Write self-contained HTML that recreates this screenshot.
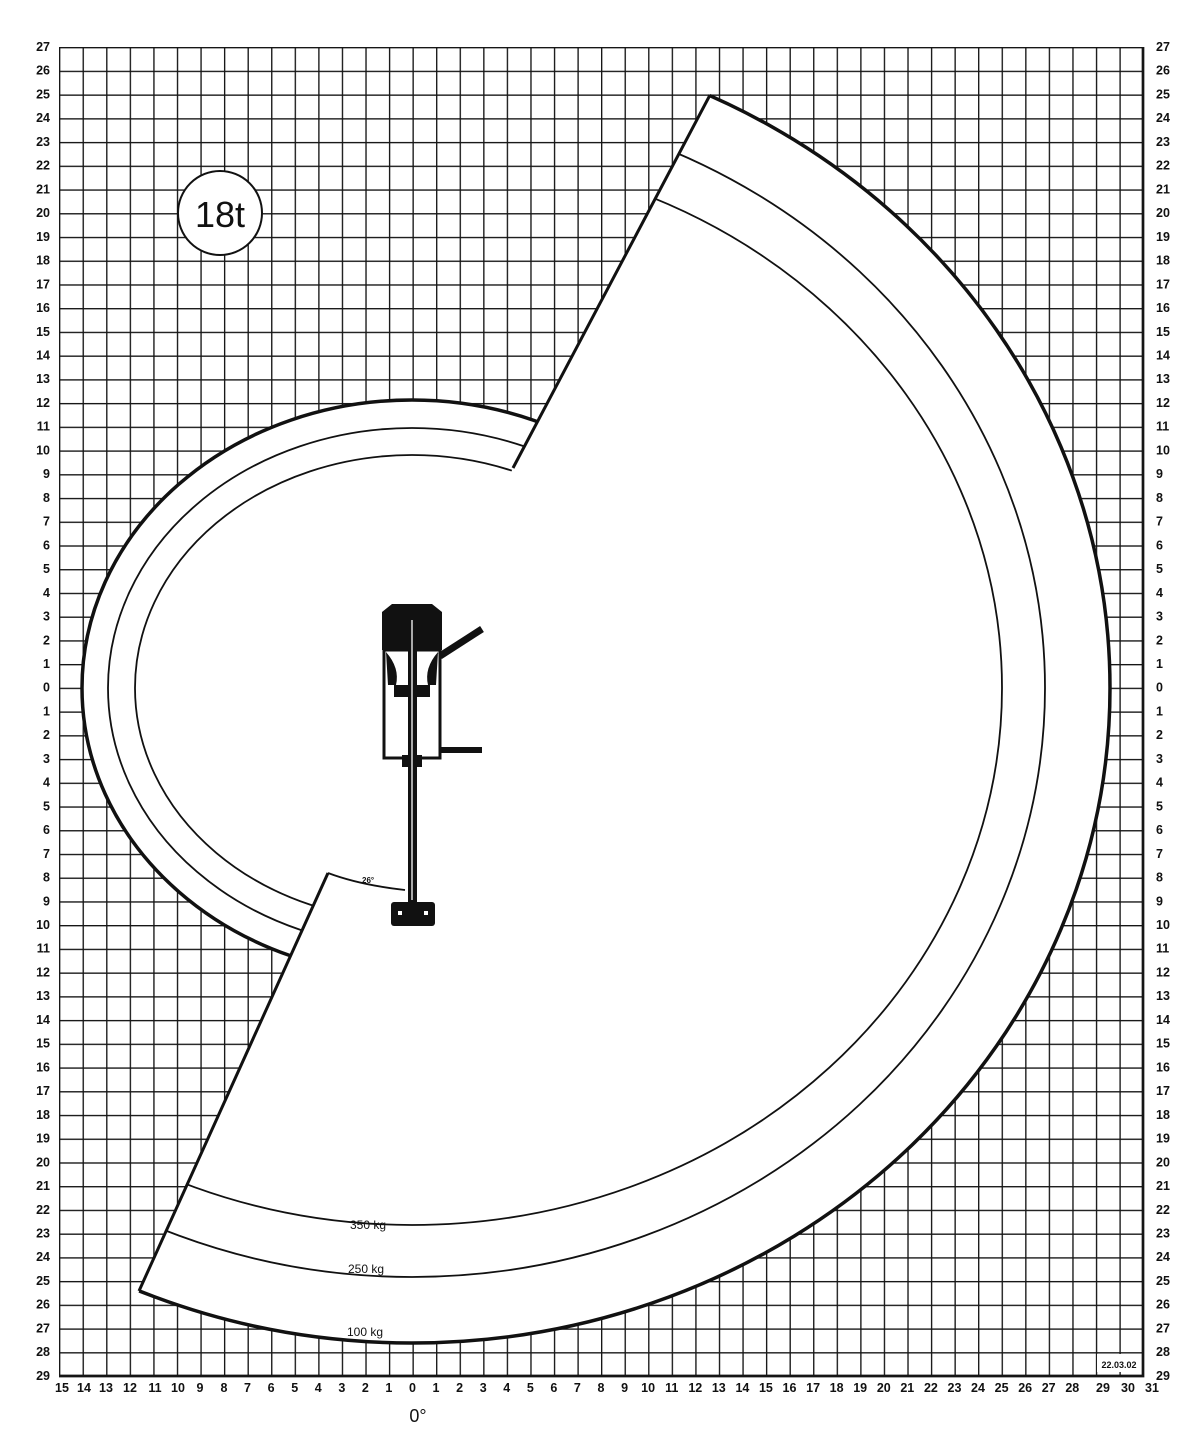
<!DOCTYPE html>
<html><head><meta charset="utf-8"><style>
html,body{margin:0;padding:0;background:#fff}
svg{display:block}
text{font-family:"Liberation Sans",sans-serif;font-weight:bold;fill:#111}
</style></head><body>
<svg width="1200" height="1442" viewBox="0 0 1200 1442" xmlns="http://www.w3.org/2000/svg">
<defs>
<pattern id="g" x="59" y="47" width="23.565" height="23.73" patternUnits="userSpaceOnUse">
<path d="M0 0V23.73M0 0H23.565" stroke="#151515" stroke-width="2.7" fill="none"/>
</pattern>
<clipPath id="cr"><polygon points="760,0 1200,0 1200,1442 71,1442 328,873 513,468"/></clipPath>
<clipPath id="cl"><polygon points="0,0 760,0 513,468 328,873 71,1442 0,1442"/></clipPath>
</defs>
<rect x="59" y="47" width="1084" height="1329" fill="url(#g)"/>
<path d="M1143 47V1376H59" stroke="#151515" stroke-width="2.7" fill="none"/>
<g fill="#fff">
<ellipse cx="412" cy="688" rx="698" ry="655" clip-path="url(#cr)"/>
<ellipse cx="412" cy="688" rx="330" ry="288" clip-path="url(#cl)"/>
<polygon points="505,468 560,468 370,873 320,873"/>
</g>
<g fill="none" stroke="#111">
<g clip-path="url(#cr)">
<ellipse cx="412" cy="688" rx="698" ry="655" stroke-width="3.5"/>
<ellipse cx="412" cy="688" rx="633" ry="589" stroke-width="1.8"/>
<ellipse cx="412" cy="688" rx="590" ry="537" stroke-width="1.8"/>
</g>
<g clip-path="url(#cl)">
<ellipse cx="412" cy="688" rx="330" ry="288" stroke-width="3.5"/>
<ellipse cx="412" cy="688" rx="304" ry="260" stroke-width="1.8"/>
<ellipse cx="412" cy="688" rx="277" ry="233" stroke-width="1.8"/>
</g>
<path d="M710 95L513 468M328 873L139 1291" stroke-width="3"/>
<path d="M328 873Q360 885 405 890" stroke-width="1.8"/>
</g>
<text x="362" y="883" font-size="8">26°</text>
<g fill="#111" stroke="#111">
<path d="M382 612L392 604H432L442 612V650H382Z" stroke="none"/>
<rect x="384" y="650" width="56" height="108" fill="none" stroke-width="3"/>
<path d="M386 652Q400 668 396 685H388ZM438 652Q424 668 428 685H436Z" stroke="none"/>
<rect x="394" y="685" width="36" height="12" stroke="none"/>
<rect x="408" y="615" width="9" height="290" stroke="none"/>
<rect x="402" y="755" width="20" height="12" stroke="none"/>
<path d="M440 656L482 629" stroke-width="7" fill="none"/>
<path d="M440 750H482" stroke-width="6" fill="none"/>
<rect x="391" y="902" width="44" height="24" rx="3" stroke="none"/>
<rect x="398" y="911" width="4" height="4" fill="#fff" stroke="none"/>
<rect x="424" y="911" width="4" height="4" fill="#fff" stroke="none"/>
<path d="M412 620V900" stroke="#ddd" stroke-width="1.5"/>
</g>
<circle cx="220" cy="213" r="42" fill="#fff" stroke="#111" stroke-width="2"/>
<text x="220" y="227" font-size="36" text-anchor="middle" style="font-weight:normal">18t</text>
<g font-size="12">
<text x="350" y="1229" style="font-weight:normal">350 kg</text>
<text x="348" y="1273" style="font-weight:normal">250 kg</text>
<text x="347" y="1336" style="font-weight:normal">100 kg</text>
</g>
<rect x="1097" y="1354" width="44" height="18" fill="#fff"/>
<text x="1119" y="1368" font-size="9" text-anchor="middle">22.03.02</text>
<text x="418" y="1422" font-size="18" text-anchor="middle" style="font-weight:normal">0°</text>
<text font-size="12.5" text-anchor="end"><tspan x="50" y="51">27</tspan><tspan x="50" dy="23.73">26</tspan><tspan x="50" dy="23.73">25</tspan><tspan x="50" dy="23.73">24</tspan><tspan x="50" dy="23.73">23</tspan><tspan x="50" dy="23.73">22</tspan><tspan x="50" dy="23.73">21</tspan><tspan x="50" dy="23.73">20</tspan><tspan x="50" dy="23.73">19</tspan><tspan x="50" dy="23.73">18</tspan><tspan x="50" dy="23.73">17</tspan><tspan x="50" dy="23.73">16</tspan><tspan x="50" dy="23.73">15</tspan><tspan x="50" dy="23.73">14</tspan><tspan x="50" dy="23.73">13</tspan><tspan x="50" dy="23.73">12</tspan><tspan x="50" dy="23.73">11</tspan><tspan x="50" dy="23.73">10</tspan><tspan x="50" dy="23.73">9</tspan><tspan x="50" dy="23.73">8</tspan><tspan x="50" dy="23.73">7</tspan><tspan x="50" dy="23.73">6</tspan><tspan x="50" dy="23.73">5</tspan><tspan x="50" dy="23.73">4</tspan><tspan x="50" dy="23.73">3</tspan><tspan x="50" dy="23.73">2</tspan><tspan x="50" dy="23.73">1</tspan><tspan x="50" dy="23.73">0</tspan><tspan x="50" dy="23.73">1</tspan><tspan x="50" dy="23.73">2</tspan><tspan x="50" dy="23.73">3</tspan><tspan x="50" dy="23.73">4</tspan><tspan x="50" dy="23.73">5</tspan><tspan x="50" dy="23.73">6</tspan><tspan x="50" dy="23.73">7</tspan><tspan x="50" dy="23.73">8</tspan><tspan x="50" dy="23.73">9</tspan><tspan x="50" dy="23.73">10</tspan><tspan x="50" dy="23.73">11</tspan><tspan x="50" dy="23.73">12</tspan><tspan x="50" dy="23.73">13</tspan><tspan x="50" dy="23.73">14</tspan><tspan x="50" dy="23.73">15</tspan><tspan x="50" dy="23.73">16</tspan><tspan x="50" dy="23.73">17</tspan><tspan x="50" dy="23.73">18</tspan><tspan x="50" dy="23.73">19</tspan><tspan x="50" dy="23.73">20</tspan><tspan x="50" dy="23.73">21</tspan><tspan x="50" dy="23.73">22</tspan><tspan x="50" dy="23.73">23</tspan><tspan x="50" dy="23.73">24</tspan><tspan x="50" dy="23.73">25</tspan><tspan x="50" dy="23.73">26</tspan><tspan x="50" dy="23.73">27</tspan><tspan x="50" dy="23.73">28</tspan><tspan x="50" dy="23.73">29</tspan></text>
<text font-size="12.5"><tspan x="1156" y="51">27</tspan><tspan x="1156" dy="23.73">26</tspan><tspan x="1156" dy="23.73">25</tspan><tspan x="1156" dy="23.73">24</tspan><tspan x="1156" dy="23.73">23</tspan><tspan x="1156" dy="23.73">22</tspan><tspan x="1156" dy="23.73">21</tspan><tspan x="1156" dy="23.73">20</tspan><tspan x="1156" dy="23.73">19</tspan><tspan x="1156" dy="23.73">18</tspan><tspan x="1156" dy="23.73">17</tspan><tspan x="1156" dy="23.73">16</tspan><tspan x="1156" dy="23.73">15</tspan><tspan x="1156" dy="23.73">14</tspan><tspan x="1156" dy="23.73">13</tspan><tspan x="1156" dy="23.73">12</tspan><tspan x="1156" dy="23.73">11</tspan><tspan x="1156" dy="23.73">10</tspan><tspan x="1156" dy="23.73">9</tspan><tspan x="1156" dy="23.73">8</tspan><tspan x="1156" dy="23.73">7</tspan><tspan x="1156" dy="23.73">6</tspan><tspan x="1156" dy="23.73">5</tspan><tspan x="1156" dy="23.73">4</tspan><tspan x="1156" dy="23.73">3</tspan><tspan x="1156" dy="23.73">2</tspan><tspan x="1156" dy="23.73">1</tspan><tspan x="1156" dy="23.73">0</tspan><tspan x="1156" dy="23.73">1</tspan><tspan x="1156" dy="23.73">2</tspan><tspan x="1156" dy="23.73">3</tspan><tspan x="1156" dy="23.73">4</tspan><tspan x="1156" dy="23.73">5</tspan><tspan x="1156" dy="23.73">6</tspan><tspan x="1156" dy="23.73">7</tspan><tspan x="1156" dy="23.73">8</tspan><tspan x="1156" dy="23.73">9</tspan><tspan x="1156" dy="23.73">10</tspan><tspan x="1156" dy="23.73">11</tspan><tspan x="1156" dy="23.73">12</tspan><tspan x="1156" dy="23.73">13</tspan><tspan x="1156" dy="23.73">14</tspan><tspan x="1156" dy="23.73">15</tspan><tspan x="1156" dy="23.73">16</tspan><tspan x="1156" dy="23.73">17</tspan><tspan x="1156" dy="23.73">18</tspan><tspan x="1156" dy="23.73">19</tspan><tspan x="1156" dy="23.73">20</tspan><tspan x="1156" dy="23.73">21</tspan><tspan x="1156" dy="23.73">22</tspan><tspan x="1156" dy="23.73">23</tspan><tspan x="1156" dy="23.73">24</tspan><tspan x="1156" dy="23.73">25</tspan><tspan x="1156" dy="23.73">26</tspan><tspan x="1156" dy="23.73">27</tspan><tspan x="1156" dy="23.73">28</tspan><tspan x="1156" dy="23.73">29</tspan></text>
<text font-size="12.5" text-anchor="middle"><tspan x="62" y="1392">15</tspan><tspan x="84" y="1392">14</tspan><tspan x="106" y="1392">13</tspan><tspan x="130" y="1392">12</tspan><tspan x="155" y="1392">11</tspan><tspan x="178" y="1392">10</tspan><tspan x="200" y="1392">9</tspan><tspan x="224" y="1392">8</tspan><tspan x="247.5" y="1392">7</tspan><tspan x="271.1" y="1392">6</tspan><tspan x="294.7" y="1392">5</tspan><tspan x="318.2" y="1392">4</tspan><tspan x="341.8" y="1392">3</tspan><tspan x="365.3" y="1392">2</tspan><tspan x="388.9" y="1392">1</tspan><tspan x="412.5" y="1392">0</tspan><tspan x="436" y="1392">1</tspan><tspan x="459.6" y="1392">2</tspan><tspan x="483.2" y="1392">3</tspan><tspan x="506.7" y="1392">4</tspan><tspan x="530.3" y="1392">5</tspan><tspan x="553.9" y="1392">6</tspan><tspan x="577.4" y="1392">7</tspan><tspan x="601" y="1392">8</tspan><tspan x="624.6" y="1392">9</tspan><tspan x="648.1" y="1392">10</tspan><tspan x="671.7" y="1392">11</tspan><tspan x="695.3" y="1392">12</tspan><tspan x="718.8" y="1392">13</tspan><tspan x="742.4" y="1392">14</tspan><tspan x="765.9" y="1392">15</tspan><tspan x="789.5" y="1392">16</tspan><tspan x="813.1" y="1392">17</tspan><tspan x="836.6" y="1392">18</tspan><tspan x="860.2" y="1392">19</tspan><tspan x="883.8" y="1392">20</tspan><tspan x="907.3" y="1392">21</tspan><tspan x="930.9" y="1392">22</tspan><tspan x="954.5" y="1392">23</tspan><tspan x="978" y="1392">24</tspan><tspan x="1001.6" y="1392">25</tspan><tspan x="1025.2" y="1392">26</tspan><tspan x="1048.7" y="1392">27</tspan><tspan x="1072.3" y="1392">28</tspan><tspan x="1103" y="1392">29</tspan><tspan x="1128" y="1392">30</tspan><tspan x="1152" y="1392">31</tspan></text>
</svg>
</body></html>
